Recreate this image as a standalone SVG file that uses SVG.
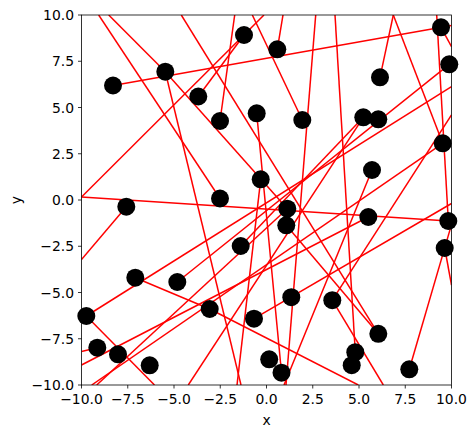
<svg xmlns="http://www.w3.org/2000/svg" width="476" height="438" viewBox="0 0 476 438">
<style>
.ln{stroke:#ff0000;stroke-width:1.5;fill:none;stroke-linecap:butt}
.dot{fill:#000000}
.ax{stroke:#000;stroke-width:0.8;fill:none}
.tk{stroke:#000;stroke-width:0.8}
.tl{font-family:"DejaVu Sans",sans-serif;font-size:13.9px;fill:#000}
</style>
<defs><clipPath id="clip"><rect x="81.5" y="15" width="370" height="370"/></clipPath></defs>
<rect width="476" height="438" fill="#fff"/>
<g id="connectors" clip-path="url(#clip)" class="ln">
<line x1="98.7" y1="15" x2="220" y2="198.5"/>
<line x1="108.7" y1="15" x2="165.3" y2="71.7"/>
<line x1="181.3" y1="15" x2="378.3" y2="333.8"/>
<line x1="113" y1="85.5" x2="451.5" y2="25.5"/>
<line x1="81.5" y1="197" x2="264" y2="15"/>
<line x1="198.3" y1="96.5" x2="244" y2="35"/>
<line x1="234.7" y1="15" x2="220" y2="121"/>
<line x1="252.3" y1="15" x2="302.3" y2="120"/>
<line x1="283" y1="15" x2="277.3" y2="49.3"/>
<line x1="315.7" y1="15" x2="286" y2="385"/>
<line x1="335" y1="15" x2="355.3" y2="352.2"/>
<line x1="393.3" y1="15" x2="380" y2="77.3"/>
<line x1="393.3" y1="15" x2="442.7" y2="143.3"/>
<line x1="436.7" y1="15" x2="448.3" y2="221"/>
<line x1="441" y1="27.3" x2="451.5" y2="46.7"/>
<line x1="165.3" y1="71.7" x2="287.3" y2="208.7"/>
<line x1="165.3" y1="71.7" x2="241" y2="385"/>
<line x1="256.7" y1="113.3" x2="281.5" y2="372.7"/>
<line x1="260.7" y1="179.3" x2="237" y2="385"/>
<line x1="81.5" y1="197" x2="448.3" y2="221"/>
<line x1="126.3" y1="206.7" x2="81.5" y2="259.5"/>
<line x1="135.3" y1="277.7" x2="209.7" y2="309"/>
<line x1="177.3" y1="282" x2="449.3" y2="64.3"/>
<line x1="81.5" y1="351.5" x2="97.3" y2="347.7"/>
<line x1="86.3" y1="316" x2="154.5" y2="385"/>
<line x1="86.3" y1="316" x2="451.5" y2="86.7"/>
<line x1="332.3" y1="300.2" x2="451.5" y2="115"/>
<line x1="332.3" y1="300.2" x2="383.3" y2="385"/>
<line x1="209.7" y1="309" x2="358.3" y2="385"/>
<line x1="240.7" y1="246" x2="363.3" y2="117.3"/>
<line x1="372" y1="170" x2="284" y2="385"/>
<line x1="444.7" y1="248" x2="451.5" y2="285"/>
<line x1="409.3" y1="369.3" x2="451.5" y2="224.6"/>
<line x1="254" y1="318.7" x2="451.5" y2="203.5"/>
<line x1="286.3" y1="225.3" x2="378.3" y2="333.8"/>
<line x1="91.7" y1="385" x2="442.7" y2="143.3"/>
<line x1="96.7" y1="385" x2="287.3" y2="208.7"/>
<line x1="81.5" y1="365" x2="368.3" y2="217"/>
<line x1="188.3" y1="385" x2="363.3" y2="117.3"/>
</g>
<g id="nodes" class="dot">
<circle id="n1" cx="113" cy="85.5" r="9"/>
<circle id="n2" cx="165.3" cy="71.7" r="9"/>
<circle id="n3" cx="198.3" cy="96.5" r="9"/>
<circle id="n4" cx="220" cy="121" r="9"/>
<circle id="n5" cx="244" cy="35" r="9"/>
<circle id="n6" cx="277.3" cy="49.3" r="9"/>
<circle id="n7" cx="256.7" cy="113.3" r="9"/>
<circle id="n8" cx="302.3" cy="120" r="9"/>
<circle id="n9" cx="363.3" cy="117.3" r="9"/>
<circle id="n10" cx="378.3" cy="119.3" r="9"/>
<circle id="n11" cx="380" cy="77.3" r="9"/>
<circle id="n12" cx="441" cy="27.3" r="9"/>
<circle id="n13" cx="449.3" cy="64.3" r="9"/>
<circle id="n14" cx="442.7" cy="143.3" r="9"/>
<circle id="n15" cx="372" cy="170" r="9"/>
<circle id="n16" cx="260.7" cy="179.3" r="9"/>
<circle id="n17" cx="220" cy="198.5" r="9"/>
<circle id="n18" cx="126.3" cy="206.7" r="9"/>
<circle id="n19" cx="287.3" cy="208.7" r="9"/>
<circle id="n20" cx="286.3" cy="225.3" r="9"/>
<circle id="n21" cx="368.3" cy="217" r="9"/>
<circle id="n22" cx="448.3" cy="221" r="9"/>
<circle id="n23" cx="444.7" cy="248" r="9"/>
<circle id="n24" cx="240.7" cy="246" r="9"/>
<circle id="n25" cx="135.3" cy="277.7" r="9"/>
<circle id="n26" cx="177.3" cy="282" r="9"/>
<circle id="n27" cx="291.3" cy="297.2" r="9"/>
<circle id="n28" cx="332.3" cy="300.2" r="9"/>
<circle id="n29" cx="209.7" cy="309" r="9"/>
<circle id="n30" cx="254" cy="318.7" r="9"/>
<circle id="n31" cx="86.3" cy="316" r="9"/>
<circle id="n32" cx="97.3" cy="347.7" r="9"/>
<circle id="n33" cx="118" cy="354.3" r="9"/>
<circle id="n34" cx="149.7" cy="365.3" r="9"/>
<circle id="n35" cx="269.2" cy="359.3" r="9"/>
<circle id="n36" cx="281.5" cy="372.7" r="9"/>
<circle id="n37" cx="355.3" cy="352.2" r="9"/>
<circle id="n38" cx="351.7" cy="365.2" r="9"/>
<circle id="n39" cx="378.3" cy="333.8" r="9"/>
<circle id="n40" cx="409.3" cy="369.3" r="9"/>
</g>
<g id="axes">
<rect class="ax" x="81.5" y="15" width="370" height="370"/>
<g class="tk">
<line x1="81.5" y1="385" x2="81.5" y2="388.5"/>
<line x1="127.75" y1="385" x2="127.75" y2="388.5"/>
<line x1="174" y1="385" x2="174" y2="388.5"/>
<line x1="220.25" y1="385" x2="220.25" y2="388.5"/>
<line x1="266.5" y1="385" x2="266.5" y2="388.5"/>
<line x1="312.75" y1="385" x2="312.75" y2="388.5"/>
<line x1="359" y1="385" x2="359" y2="388.5"/>
<line x1="405.25" y1="385" x2="405.25" y2="388.5"/>
<line x1="451.5" y1="385" x2="451.5" y2="388.5"/>
<line x1="78" y1="15" x2="81.5" y2="15"/>
<line x1="78" y1="61.25" x2="81.5" y2="61.25"/>
<line x1="78" y1="107.5" x2="81.5" y2="107.5"/>
<line x1="78" y1="153.75" x2="81.5" y2="153.75"/>
<line x1="78" y1="200" x2="81.5" y2="200"/>
<line x1="78" y1="246.25" x2="81.5" y2="246.25"/>
<line x1="78" y1="292.5" x2="81.5" y2="292.5"/>
<line x1="78" y1="338.75" x2="81.5" y2="338.75"/>
<line x1="78" y1="385" x2="78" y2="385"/>
<line x1="78" y1="385" x2="81.5" y2="385"/>
</g>
<g class="tl" text-anchor="middle">
<text x="81.5" y="404">−10.0</text>
<text x="127.75" y="404">−7.5</text>
<text x="174" y="404">−5.0</text>
<text x="220.25" y="404">−2.5</text>
<text x="266.5" y="404">0.0</text>
<text x="312.75" y="404">2.5</text>
<text x="359" y="404">5.0</text>
<text x="405.25" y="404">7.5</text>
<text x="451.5" y="404">10.0</text>
<text x="266.5" y="425">x</text>
</g>
<g class="tl" text-anchor="end">
<text x="74" y="20">10.0</text>
<text x="74" y="66.25">7.5</text>
<text x="74" y="112.5">5.0</text>
<text x="74" y="158.75">2.5</text>
<text x="74" y="205">0.0</text>
<text x="74" y="251.25">−2.5</text>
<text x="74" y="297.5">−5.0</text>
<text x="74" y="343.75">−7.5</text>
<text x="74" y="390">−10.0</text>
</g>
<text class="tl" x="21" y="200" text-anchor="middle" transform="rotate(-90 21 200)">y</text>
</g>
</svg>
